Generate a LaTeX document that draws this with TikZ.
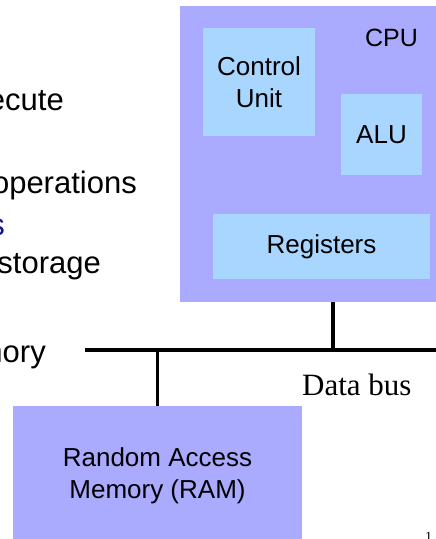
\documentclass[tikz,border=0pt]{standalone}
\usepackage{fontspec}
\setmainfont{Liberation Sans}
\newfontfamily\busfont{Liberation Serif}
\definecolor{cpufill}{RGB}{170,170,255}
\definecolor{unitfill}{RGB}{168,214,255}
\definecolor{navy}{RGB}{20,20,140}
\tikzset{
  box/.style={inner sep=0pt, align=center, font=\fontsize{26}{32}\selectfont},
  outer/.style={box, fill=cpufill},
  unit/.style={box, fill=unitfill},
  slide/.style={anchor=base east, inner sep=0pt, font=\fontsize{31}{37}\selectfont},
  bus/.style={line width=3.6pt}
}
\begin{document}
\begin{tikzpicture}[x=1pt,y=-1pt]
      \clip (0,0) rectangle (436,539);
      % text of the slide, cut off at the left
      \node[slide] (execute) at (64,110) {ecute};
      \node[slide] (operations) at (137,193) {operations};
      \node[slide, text=navy] (bluetail) at (5,235) {s};
      \node[slide] (storage) at (101,273) {storage};
      \node[slide] (memory) at (46,362) {mory};
      % processor
      \node[outer, minimum width=262, minimum height=296] (cpu) at (311,154) {};
      \node[box, font=\fontsize{25}{30}\selectfont] (cpulabel) at (391.5,37.5) {CPU};
      \node[unit, minimum width=112, minimum height=108] (cu) at (259,82) {Control\\Unit};
      \node[unit, minimum width=81, minimum height=81] (alu) at (381.5,134.5) {ALU};
      \node[unit, minimum width=217, minimum height=65] (reg) at (321.5,246.5) {Registers};
      % memory
      \node[outer, minimum width=289, minimum height=140] (ram) at (157.5,476) {Random Access\\Memory (RAM)};
      % data bus
      \coordinate (busL) at (85,350);
      \coordinate (busR) at (440,350);
      \coordinate (cputap) at (333,350);
      \begin{scope}[bus]
        \draw (busL) -- (busR);
        \draw (cputap |- cpu.south) -- (cputap);
        \draw (ram.north) -- (ram.north |- busL);
      \end{scope}
      \node[anchor=base west, inner sep=0pt, font=\busfont\fontsize{31}{36}\selectfont] (dbus) at (302,395) {Data bus};
      \node[anchor=base west, inner sep=0pt, font=\busfont\fontsize{14}{16}\selectfont] (page) at (425,541) {1};
    \end{tikzpicture}
\end{document}
